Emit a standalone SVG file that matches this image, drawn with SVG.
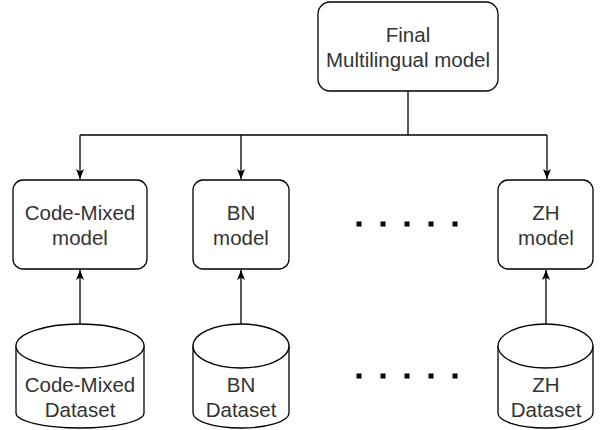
<svg xmlns="http://www.w3.org/2000/svg" width="601" height="430" viewBox="0 0 601 430">
<defs>
<style>
.box{fill:#fff;stroke:#000;stroke-width:1.3}
.ln{fill:none;stroke:#000;stroke-width:1.3}
.t{font-family:"Liberation Sans",Arial,sans-serif;font-size:20.5px;fill:#333;text-anchor:middle}
.dot{fill:#000}
</style>
<marker id="arr" viewBox="0 0 10 10" refX="10" refY="5" markerWidth="10" markerHeight="10" markerUnits="userSpaceOnUse" orient="auto">
<path d="M0,1 L10,5 L0,9 L2.5,5 Z" fill="#000"/>
</marker>
</defs>
<rect width="601" height="430" fill="#fff"/>
<g id="connectors">
<path class="ln" d="M408,91 V135"/>
<path class="ln" d="M80,135 H547"/>
<path class="ln" d="M80,135 V179" marker-end="url(#arr)"/>
<path class="ln" d="M241,135 V179" marker-end="url(#arr)"/>
<path class="ln" d="M547,135 V179" marker-end="url(#arr)"/>
<path class="ln" d="M80,324 V270" marker-end="url(#arr)"/>
<path class="ln" d="M241,324 V270" marker-end="url(#arr)"/>
<path class="ln" d="M546,324 V270" marker-end="url(#arr)"/>
</g>
<g id="final">
<rect class="box" x="318" y="2" width="180" height="89" rx="12"/>
<text class="t" x="408" y="42">Final</text>
<text class="t" x="408" y="67">Multilingual model</text>
</g>
<g id="cm-model">
<rect class="box" x="13" y="180" width="134" height="89" rx="10"/>
<text class="t" x="80" y="220">Code-Mixed</text>
<text class="t" x="80" y="245">model</text>
</g>
<g id="bn-model">
<rect class="box" x="193" y="180" width="96" height="89" rx="10"/>
<text class="t" x="241" y="220">BN</text>
<text class="t" x="241" y="245">model</text>
</g>
<g id="zh-model">
<rect class="box" x="498" y="180" width="95" height="89" rx="10"/>
<text class="t" x="546" y="220">ZH</text>
<text class="t" x="546" y="245">model</text>
</g>
<g id="cm-dataset">
<path class="box" d="M16,346 V413 A64,15 0 0 0 144,413 V346"/>
<ellipse class="box" cx="80" cy="346" rx="64" ry="22"/>
<text class="t" x="80" y="392">Code-Mixed</text>
<text class="t" x="80" y="417">Dataset</text>
</g>
<g id="bn-dataset">
<path class="box" d="M193,346 V413 A48,15 0 0 0 289,413 V346"/>
<ellipse class="box" cx="241" cy="346" rx="48" ry="22"/>
<text class="t" x="241" y="392">BN</text>
<text class="t" x="241" y="417">Dataset</text>
</g>
<g id="zh-dataset">
<path class="box" d="M498,346 V413 A47.5,15 0 0 0 593,413 V346"/>
<ellipse class="box" cx="545.5" cy="346" rx="47.5" ry="22"/>
<text class="t" x="546" y="392">ZH</text>
<text class="t" x="546" y="417">Dataset</text>
</g>
<g id="dots-top">
<rect class="dot" x="356.5" y="221.5" width="5" height="5"/>
<rect class="dot" x="380.5" y="221.5" width="5" height="5"/>
<rect class="dot" x="404.5" y="221.5" width="5" height="5"/>
<rect class="dot" x="428.5" y="221.5" width="5" height="5"/>
<rect class="dot" x="452.5" y="221.5" width="5" height="5"/>
</g>
<g id="dots-bottom">
<rect class="dot" x="356.5" y="373.5" width="5" height="5"/>
<rect class="dot" x="380.5" y="373.5" width="5" height="5"/>
<rect class="dot" x="404.5" y="373.5" width="5" height="5"/>
<rect class="dot" x="428.5" y="373.5" width="5" height="5"/>
<rect class="dot" x="452.5" y="373.5" width="5" height="5"/>
</g>
</svg>
